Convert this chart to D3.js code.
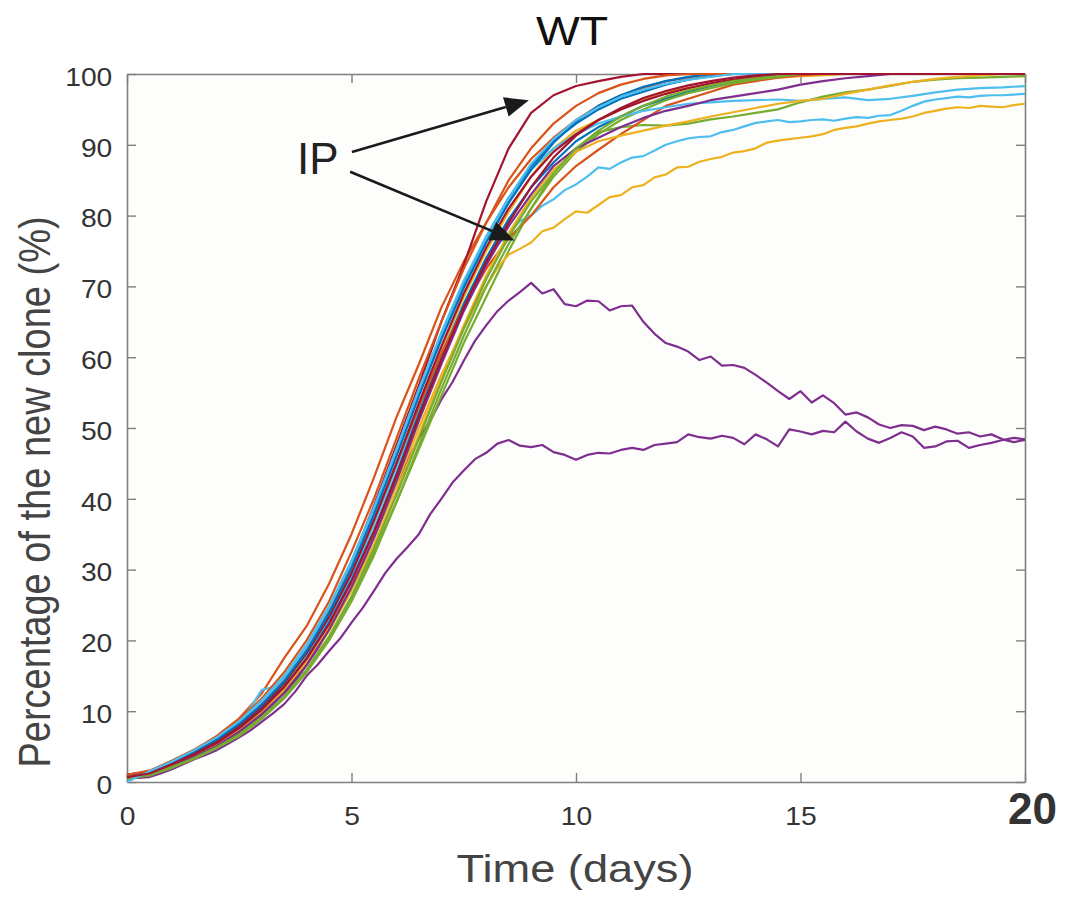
<!DOCTYPE html>
<html>
<head>
<meta charset="utf-8">
<script src="https://cdn.jsdelivr.net/npm/d3@7/dist/d3.min.js"></script>
<style>
body{margin:0;background:#fff;}
text{font-family:"Liberation Sans",Arial,Helvetica,sans-serif;}
</style>
</head>
<body>
<svg width="1067" height="901"></svg>
<script>
// time grids (days)
const days = [0,0.5,1,1.5,2,2.5,3,3.5,4,4.5,5,5.5,6,6.5,7,7.5,8,8.5,9,9.5,
  10,10.5,11,11.5,12,12.5,13,13.5,14,14.5,15,15.5,16,16.5,17,17.5,18,18.5,19,19.5,20];
const daysFine = [0,0.25,0.5,0.75,1,1.25,1.5,1.75, 2,2.25,2.5,2.75,3,3.25,3.5,3.75,
  4,4.25,4.5,4.75,5,5.25,5.5,5.75, 6,6.25,6.5,6.75,7,7.25,7.5,7.75,
  8,8.25,8.5,8.75,9,9.25,9.5,9.75, 10,10.25,10.5,10.75,11,11.25,11.5,11.75,
  12,12.25,12.5,12.75,13,13.25,13.5,13.75, 14,14.25,14.5,14.75,15,15.25,15.5,15.75,
  16,16.25,16.5,16.75,17,17.25,17.5,17.75, 18,18.25,18.5,18.75,19,19.25,19.5,19.75, 20];

// percentage of the new clone, one array per simulation run
const run01 = [1,1.5,2.8,4.2,6,8.3,11.2,14.5,19,24.5, 31,38.5,46.5,55,63,70.5,77,82.5,87,90.5,
  93,95,96.5,97.5,98.5,99.2,99.7,100,100,100, 100,100,100,100,100,100,100,100,100,100, 100];
const run02 = [1,1.5,3,4.5,6.5,9,12.5,17.5,22,28, 35,43,51.5,59,67,73.5,79,84,88,91,
  93.5,95.5,97,98,99,99.5,100,100,100,100, 100,100,100,100,100,100,100,100,100,100, 100];
const run03 = [0.8,1.2,2.5,4,5.7,7.8,10.5,13.8,18,23, 29,36.5,44.5,53,61,68.5,75,80.5,85.5,89.5,
  92,93.5,95,96.5,97.5,98,98.5,99,99.3,99.5, 99.7,99.8,100,100,100,100,100,100,100,100, 100];
// upper deviant purple run (fine grid)
const run04 = [0.5,0.6,0.8,1.3,2,2.7,3.5,4.2, 5,6,7,8.2,9.5,11,12.5,14.3,
  16.5,18.8,21.5,24.3,27.5,30.8,34.5,38.2, 42,45.5,48.5,51,54,56.5,59.5,62.3,
  64.5,66.5,68,69.2,70.5,69,69.6,67.5, 67.2,68,67.9,66.6,67.2,67.3,65,63.3,
  62,61.5,60.8,59.6,60.1,58.8,58.9,58.5, 57.5,56.4,55.2,54.1,55.2,53.6,54.6,53.5,
  51.9,52.2,51.5,50.5,50,50.4,50.3,49.7, 50.2,49.8,49.2,49.4,48.8,49.1,48.4,48, 48.3];
const run05 = [0.5,1,2.2,3.5,5,6.8,9.2,12,15.8,20.5, 26,32.5,39.5,47,54.5,62,68.5,75,81,86,
  89.5,91.8,92.5,92.8,92.7,93,93.6,94,94.5,95, 96,96.8,97.4,97.8,98.3,98.9,99.2,99.4,99.5,99.6, 99.7];
// lower light-blue run (fine grid)
const run06 = [1,1.2,1.5,2.1,2.8,3.6,4.5,5.3, 6.2,7.3,8.5,10.5,13,13.4,14.5,16.2,
  18,20.4,23,26,29,32.7,36.5,40.5, 44.5,48.5,52.5,56.5,60.5,64,67.5,70.6,
  73.5,75.8,77.5,79.2,80,81.4,82.3,83.6, 84.4,85.5,86.8,86.6,87.5,88.2,88.4,89.2,
  90,90.5,90.9,91.1,91.2,91.8,92.1,92.6, 93.1,93.3,93.5,93.2,93.3,93.5,93.6,93.4,
  93.7,93.9,93.8,94.1,94.2,94.8,95.5,96.1, 96.4,96.6,96.8,96.7,96.9,97,97,97.1, 97.2];
const run07 = [0.8,1.3,2.7,4,5.8,8,10.5,14,18.5,24, 31,39,47.5,56,65,73,82,89.5,94.5,97,
  98.3,99,99.6,100,100,100,100,100,100,100, 100,100,100,100,100,100,100,100,100,100, 100];
const run08 = [0.8,1.3,2.6,4,5.6,7.8,10.3,13.5,17.5,22.5, 28.5,35.5,43.5,52,60,67.5,74,79.5,84,87.5,
  90.5,92.5,94,95.5,96.5,97.5,98.3,99,99.5,99.8, 100,100,100,100,100,100,100,100,100,100, 100];
const run09 = [1,1.4,2.7,4.2,5.9,8.2,11,14.3,18.5,23.5, 29.5,37,45,53,60.5,67,72.5,76.8,80,84,
  87,89.3,91.5,93.5,95.5,96.5,97.5,98.5,99,99.5, 99.8,100,100,100,100,100,100,100,100,100, 100];
// lowest yellow run (fine grid)
const run10 = [0.7,0.9,1.2,1.8,2.4,3.1,3.8,4.6, 5.4,6.4,7.4,8.7,10,11.4,13,15,
  17,19.3,21.8,24.6,27.5,31,34.5,38.2, 42,46,50,53.8,57.5,60.8,64,67.2,
  70,72.6,74.5,75.3,76.2,77.8,78.3,79.5, 80.6,80.4,81.5,82.6,82.9,84,84.3,85.4,
  85.8,86.8,86.9,87.6,88,88.3,88.9,89.1, 89.5,90.3,90.6,90.8,91,91.2,91.5,92.1,
  92.4,92.6,93,93.3,93.5,93.7,94,94.5, 94.8,95.1,95.3,95.2,95.5,95.4,95.3,95.6, 95.8];
// lower deviant purple run (fine grid)
const run11 = [0.5,0.6,0.7,1.2,1.8,2.5,3.2,3.8, 4.5,5.4,6.3,7.3,8.5,9.7,11,12.8,
  15,16.6,18.5,20.3,22.5,24.6,27,29.5, 31.5,33.2,35,37.8,40,42.3,44,45.6,
  46.5,47.8,48.3,47.5,47.3,47.6,46.6,46.2, 45.5,46.2,46.5,46.4,46.9,47.2,46.9,47.6,
  47.8,48,49.1,48.7,48.5,48.9,48.6,47.7, 49.1,48.4,47.4,49.8,49.5,49.1,49.6,49.4,
  50.9,49.5,48.5,47.9,48.6,49.4,48.8,47.2, 47.4,48.1,48.2,47.2,47.6,47.9,48.3,48.6, 48.4];
const run12 = [0.5,0.9,2,3.3,4.8,6.5,8.9,11.8,15.5,20, 25.5,32,39.5,47.5,55.5,63,70,76,81,85.5,
  89,91.5,93.5,95,96.3,97.3,98,98.7,99.2,99.6, 100,100,100,100,100,100,100,100,100,100, 100];
const run13 = [0.9,1.5,2.9,4.4,6.1,8.4,11.3,14.7,19,24.5, 31,38.5,46.5,55,63,70,76.5,82,86.5,89.5,
  91.5,93,94,94.8,95.3,95.8,96,96.2,96.3,96.4, 96.2,96.5,96.7,96.3,96.5,96.9,97.4,97.8,98,98.1, 98.3];
const run14 = [0.8,1.4,2.7,4.1,5.8,8,10.7,14,18.2,23.3, 29.5,37,45,53.5,61.5,69,75.5,81,85.5,89,
  91.5,93.5,95,96.2,97.2,98,98.7,99.2,99.6,100, 100,100,100,100,100,100,100,100,100,100, 100];
const run15 = [1,1.4,2.8,4.3,6,8.2,10.9,14.2,18.5,23.8, 30.2,37.8,46,54.5,62.5,69.8,76.2,81.8,86.5,90.3,
  93.3,95.5,97,98.2,99,99.6,100,100,100,100, 100,100,100,100,100,100,100,100,100,100, 100];
const run16 = [1,1.6,3,4.6,6.4,8.8,11.8,15.5,20,25.5, 32.5,40,48.5,57,65,72.5,79,85,89.5,93,
  95.5,97.3,98.5,99.3,99.8,100,100,100,100,100, 100,100,100,100,100,100,100,100,100,100, 100];
const run17 = [0.7,1.1,2.3,3.7,5.2,7.2,9.7,12.7,16.6,21.3, 27,33.5,41,49,57,64.5,71.5,77.5,82.5,86.5,
  89,90.5,91.3,92,92.7,93.3,94,94.6,95.2,95.8, 96.2,96.5,97.2,97.8,98.4,98.9,99.3,99.6,99.8,100, 100];
const run18 = [0.6,1,2.2,3.6,5.1,7.1,9.6,12.6,16.5,21.5, 27.5,34.5,42.5,51,59,66.5,73,78.5,83,87,
  89.5,91,92.5,93.8,94.8,95.5,96.3,96.8,97.3,97.8, 98.5,99,99.4,99.7,100,100,100,100,100,100, 100];
const run19 = [0.6,1,2.1,3.4,4.9,6.7,9,12,15.8,20.5, 26.2,33,40.5,48.5,56.5,64,71,77,82,86,
  89.5,92,94,95.5,96.8,97.7,98.4,99,99.4,99.7, 100,100,100,100,100,100,100,100,100,100, 100];
const run20 = [0,1.5,2.9,4.5,6.3,8.6,11.5,15,19.4,24.8, 31.3,38.8,47,55.5,63.5,70.8,77,82.5,87.3,90.8,
  93.5,95.3,96.8,97.8,98.6,99.2,99.6,100,100,100, 100,100,100,100,100,100,100,100,100,100, 100];
const run21 = [0.7,1.2,2.5,3.9,5.5,7.6,10.2,13.4,17.4,22.3, 28.3,35.3,43.2,51.6,59.6,67,73.5,79,84,88.2,
  91.3,93.5,95.2,96.6,97.6,98.4,99,99.5,99.8,100, 100,100,100,100,100,100,100,100,100,100, 100];

const runs = [run01,run02,run03,run04,run05,run06,run07,run08,run09,run10,run11,
  run12,run13,run14,run15,run16,run17,run18,run19,run20,run21];
// MATLAB default line order
const palette = ['#0072BD','#D95319','#EDB120','#7E2F8E','#77AC30','#4DBEEE','#A2142F'];

const xTicks = [0,5,10,15,20];
const yTicks = [0,10,20,30,40,50,60,70,80,90,100];

const svg = d3.select('svg');
const x = d3.scaleLinear().domain([0,20]).range([127,1025]);
const y = d3.scaleLinear().domain([0,100]).range([782,74]);
const axisColor = '#7f7f7f';

svg.append('rect')
  .attr('x',x(0)).attr('y',y(100))
  .attr('width',x(20)-x(0)).attr('height',y(0)-y(100))
  .attr('fill','#fdfdfb');

// box axes with inward ticks
const gBottom = svg.append('g')
  .attr('transform',`translate(0,${y(0)})`)
  .call(d3.axisBottom(x).tickValues(xTicks).tickSize(-9).tickSizeOuter(0).tickPadding(25));
const gTop = svg.append('g')
  .attr('transform',`translate(0,${y(100)})`)
  .call(d3.axisTop(x).tickValues(xTicks).tickSize(-9).tickSizeOuter(0).tickFormat(''));
const gLeft = svg.append('g')
  .attr('transform',`translate(${x(0)},0)`)
  .call(d3.axisLeft(y).tickValues(yTicks).tickSize(-9).tickSizeOuter(0).tickPadding(13));
const gRight = svg.append('g')
  .attr('transform',`translate(${x(20)},0)`)
  .call(d3.axisRight(y).tickValues(yTicks).tickSize(-9).tickSizeOuter(0).tickFormat(''));

[gBottom,gTop,gLeft,gRight].forEach(g=>{
  g.attr('color',axisColor);
  g.select('.domain').attr('stroke-width',1.6);
  g.selectAll('.tick line').attr('stroke-width',1.4);
});

gBottom.selectAll('text')
  .attr('font-size',25).attr('fill','#333')
  .attr('transform','scale(1.13,1)');
gBottom.selectAll('.tick').filter(d=>d===20).select('text')
  .attr('font-size',44).attr('font-weight','bold')
  .attr('y',11).attr('transform','translate(7,0)');

gLeft.selectAll('text')
  .attr('font-size',25).attr('fill','#333')
  .attr('dy','0.45em')
  .attr('transform','scale(1.13,1)');

// simulation runs: each run is drawn on the grid that matches its length
const line = d3.line()
  .x((d,i,arr)=>x((arr.length===daysFine.length ? daysFine : days)[i]))
  .y(d=>y(d));

svg.append('g').selectAll('path')
  .data(runs)
  .join('path')
  .attr('d',d=>line(d,0,d))
  .attr('fill','none')
  .attr('stroke',(d,i)=>palette[i%palette.length])
  .attr('stroke-width',2.2)
  .attr('stroke-linejoin','round');

// titles
svg.append('text')
  .attr('transform','translate(572,45) scale(1.16,1)')
  .attr('text-anchor','middle')
  .attr('font-size',40).attr('fill','#111')
  .text('WT');

svg.append('text')
  .attr('transform','translate(575,882) scale(1.16,1)')
  .attr('text-anchor','middle')
  .attr('font-size',39).attr('fill','#444')
  .text('Time (days)');

svg.append('text')
  .attr('transform','translate(50,492) scale(1.16,1) rotate(-90)')
  .attr('text-anchor','middle')
  .attr('font-size',38).attr('fill','#444')
  .text('Percentage of the new clone (%)');

// IP annotation
svg.append('text')
  .attr('x',x(4.25)).attr('y',y(88.1)+16)
  .attr('text-anchor','middle')
  .attr('font-size',44).attr('fill','#222')
  .text('IP');

function arrow(t0,v0,t1,v1){
  const x0=x(t0), y0=y(v0), x1=x(t1), y1=y(v1);
  const a=Math.atan2(y1-y0,x1-x0), L=24, W=10;
  const bx=x1-L*Math.cos(a), by=y1-L*Math.sin(a);
  svg.append('line')
    .attr('x1',x0).attr('y1',y0).attr('x2',bx).attr('y2',by)
    .attr('stroke','#1a1a1a').attr('stroke-width',2.6);
  svg.append('polygon')
    .attr('points',[[x1,y1],[bx+W*Math.sin(a),by-W*Math.cos(a)],[bx-W*Math.sin(a),by+W*Math.cos(a)]].join(' '))
    .attr('fill','#1a1a1a');
}
arrow(5.01,89.0,8.95,96.3);
arrow(4.97,86.2,8.63,76.5);
</script>
</body>
</html>
